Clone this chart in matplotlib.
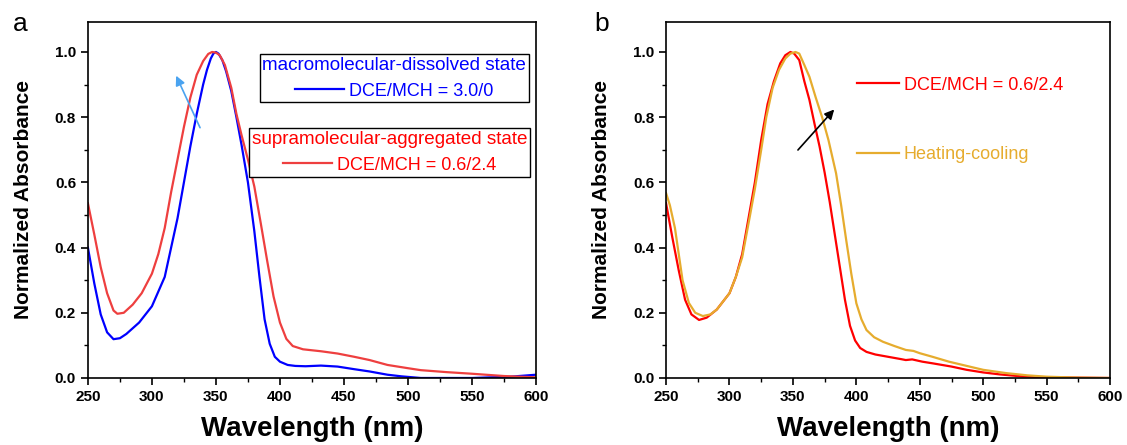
import matplotlib
matplotlib.use("Agg")
import matplotlib.pyplot as plt
import numpy as np
from matplotlib.ticker import MultipleLocator

plt.rcParams['font.family'] = ['Liberation Sans', 'DejaVu Sans']

# panel a: DCE/MCH = 3.0/0 (blue)
wl_blue_a = [250, 255, 260, 265, 270, 275, 280, 290, 300, 310, 315, 320, 325, 330, 335, 340,
             343, 346, 348, 350, 352, 355, 358, 362, 366, 370, 375, 380, 384, 388, 392, 396,
             400, 406, 412, 420, 432, 445, 458, 470, 484, 495, 510, 550, 580, 600]
blue_a = [0.40, 0.29, 0.195, 0.14, 0.119, 0.122, 0.135, 0.17, 0.22, 0.31, 0.40, 0.49, 0.60,
          0.71, 0.81, 0.90, 0.945, 0.98, 0.995, 1.0, 0.995, 0.975, 0.94, 0.88, 0.80, 0.715,
          0.60, 0.45, 0.31, 0.18, 0.105, 0.065, 0.05, 0.04, 0.037, 0.036, 0.038, 0.035, 0.027,
          0.02, 0.01, 0.005, 0.0, 0.0, 0.004, 0.01]

# panel a: DCE/MCH = 0.6/2.4 (red)
wl_red_a = [250, 255, 260, 265, 270, 273, 278, 285, 292, 300, 305, 310, 315, 320, 325, 330,
            335, 340, 344, 347, 350, 353, 357, 362, 366, 370, 375, 380, 385, 390, 395, 400,
            405, 410, 418, 432, 445, 458, 470, 484, 500, 510, 530, 550, 575, 600]
red_a = [0.536, 0.44, 0.34, 0.26, 0.207, 0.197, 0.20, 0.225, 0.26, 0.32, 0.38, 0.46, 0.57,
         0.67, 0.77, 0.86, 0.93, 0.972, 0.994, 1.0, 0.998, 0.99, 0.96, 0.89, 0.81, 0.745,
         0.67, 0.587, 0.475, 0.36, 0.25, 0.17, 0.12, 0.098, 0.088, 0.082, 0.075, 0.065, 0.055,
         0.04, 0.03, 0.024, 0.018, 0.013, 0.006, 0.002]

# panel b: DCE/MCH = 0.6/2.4 (red)
wl_red_b = [250, 255, 260, 265, 270, 276, 282, 290, 300, 305, 310, 315, 320, 325, 330, 335,
            340, 344, 348, 351, 355, 359, 363, 367, 371, 375, 379, 383, 387, 391, 395, 399,
            403, 408, 415, 425, 435, 439, 444, 452, 460, 475, 487, 500, 513, 530, 550, 600]
red_b = [0.536, 0.43, 0.33, 0.24, 0.195, 0.178, 0.185, 0.21, 0.26, 0.31, 0.38, 0.49, 0.60,
         0.73, 0.84, 0.91, 0.965, 0.99, 1.0, 0.995, 0.975, 0.91, 0.853, 0.78, 0.71, 0.63,
         0.54, 0.44, 0.34, 0.24, 0.16, 0.115, 0.092, 0.08, 0.072, 0.065, 0.058, 0.055, 0.057,
         0.05, 0.045, 0.035, 0.025, 0.017, 0.011, 0.005, 0.002, 0.0]

# panel b: after heating-cooling (gold)
wl_heat_b = [250, 253, 257, 263, 268, 273, 279, 285, 290, 300, 305, 310, 316, 320, 325, 329,
             334, 339, 344, 348, 352, 355, 359, 363, 368, 373, 378, 384, 388, 392, 396, 400,
             404, 408, 414, 421, 430, 439, 445, 450, 460, 473, 487, 500, 518, 535, 550, 575, 600]
heat_b = [0.567, 0.53, 0.46, 0.30, 0.23, 0.20, 0.19, 0.195, 0.21, 0.26, 0.31, 0.37, 0.495,
          0.58, 0.70, 0.80, 0.89, 0.945, 0.98, 0.995, 1.0, 0.995, 0.96, 0.924, 0.86, 0.80,
          0.73, 0.628, 0.53, 0.423, 0.32, 0.229, 0.18, 0.147, 0.125, 0.111, 0.098, 0.086,
          0.083, 0.076, 0.065, 0.05, 0.037, 0.025, 0.015, 0.008, 0.004, 0.001, 0.0]

fig = plt.figure(figsize=(11.27, 4.45), dpi=100)
ax1 = fig.add_axes([0.078, 0.1506, 0.3976, 0.80])
ax2 = fig.add_axes([0.591, 0.1506, 0.394, 0.80])

l_blue, = ax1.plot(wl_blue_a, blue_a, color='#0000ff', lw=1.6)
l_red, = ax1.plot(wl_red_a, red_a, color='#ee3f3f', lw=1.6)
l_rb, = ax2.plot(wl_red_b, red_b, color='#ff0000', lw=1.6)
l_hc, = ax2.plot(wl_heat_b, heat_b, color='#e6ac2e', lw=1.6)

for ax in (ax1, ax2):
    ax.set_xlim(250, 600)
    ax.set_ylim(0, 1.092)
    ax.xaxis.set_major_locator(MultipleLocator(50))
    ax.xaxis.set_minor_locator(MultipleLocator(25))
    ax.yaxis.set_minor_locator(MultipleLocator(0.1))
    ax.tick_params(which='major', direction='out', length=5, width=1.2, labelsize=11)
    ax.tick_params(which='minor', direction='out', length=3, width=1.0)
    ax.set_yticks(np.arange(0, 1.01, 0.2))
    ax.set_yticklabels(['%.1f' % v for v in np.arange(0, 1.01, 0.2)])
    for lab in ax.get_xticklabels() + ax.get_yticklabels():
        lab.set_fontweight('bold')
    for s in ax.spines.values():
        s.set_linewidth(1.2)
    ax.set_xlabel('Wavelength (nm)', fontsize=20, fontweight='bold', labelpad=9)
    ax.set_ylabel('Normalized Absorbance', fontsize=15, fontweight='bold', labelpad=16)

fig.text(0.011, 0.93, 'a', fontsize=19)
fig.text(0.527, 0.93, 'b', fontsize=19)

# arrows
ax1.annotate('', xy=(318, 0.935), xytext=(338.5, 0.76),
             arrowprops=dict(arrowstyle='-|>', color='#4aa3f0', lw=1.2, mutation_scale=14))
ax2.annotate('', xy=(384, 0.83), xytext=(352.5, 0.693),
             arrowprops=dict(arrowstyle='-|>', color='black', lw=1.2, mutation_scale=14))

# legends of panel a
leg1 = ax1.legend([l_blue], ['DCE/MCH = 3.0/0'], title='macromolecular-dissolved state',
                  loc='upper right', bbox_to_anchor=(0.984, 0.91), borderaxespad=0,
                  fontsize=13, title_fontsize=13.6, fancybox=False, edgecolor='black',
                  framealpha=1, alignment='center', handlelength=2.7, borderpad=0.15,
                  labelcolor='#0000ff', handletextpad=0.3)
leg1.get_title().set_color('#0000ff')
leg1.get_frame().set_linewidth(1.0)
ax1.add_artist(leg1)
leg2 = ax1.legend([l_red], ['DCE/MCH = 0.6/2.4'], title='supramolecular-aggregated state',
                  loc='upper right', bbox_to_anchor=(0.987, 0.702), borderaxespad=0,
                  fontsize=13, title_fontsize=13.6, fancybox=False, edgecolor='black',
                  framealpha=1, alignment='center', handlelength=2.7, borderpad=0.15,
                  labelcolor='#ff0000', handletextpad=0.3)
leg2.get_title().set_color('#ff0000')
leg2.get_frame().set_linewidth(1.0)

# legend of panel b
ax2.legend([l_rb, l_hc], ['DCE/MCH = 0.6/2.4', 'Heating-cooling'], loc='upper left',
           bbox_to_anchor=(0.43, 0.846), borderaxespad=0, borderpad=0, frameon=False,
           fontsize=13, handlelength=2.3, handletextpad=0.3, labelspacing=2.9,
           labelcolor='linecolor')

fig.savefig('out.png', dpi=100)
